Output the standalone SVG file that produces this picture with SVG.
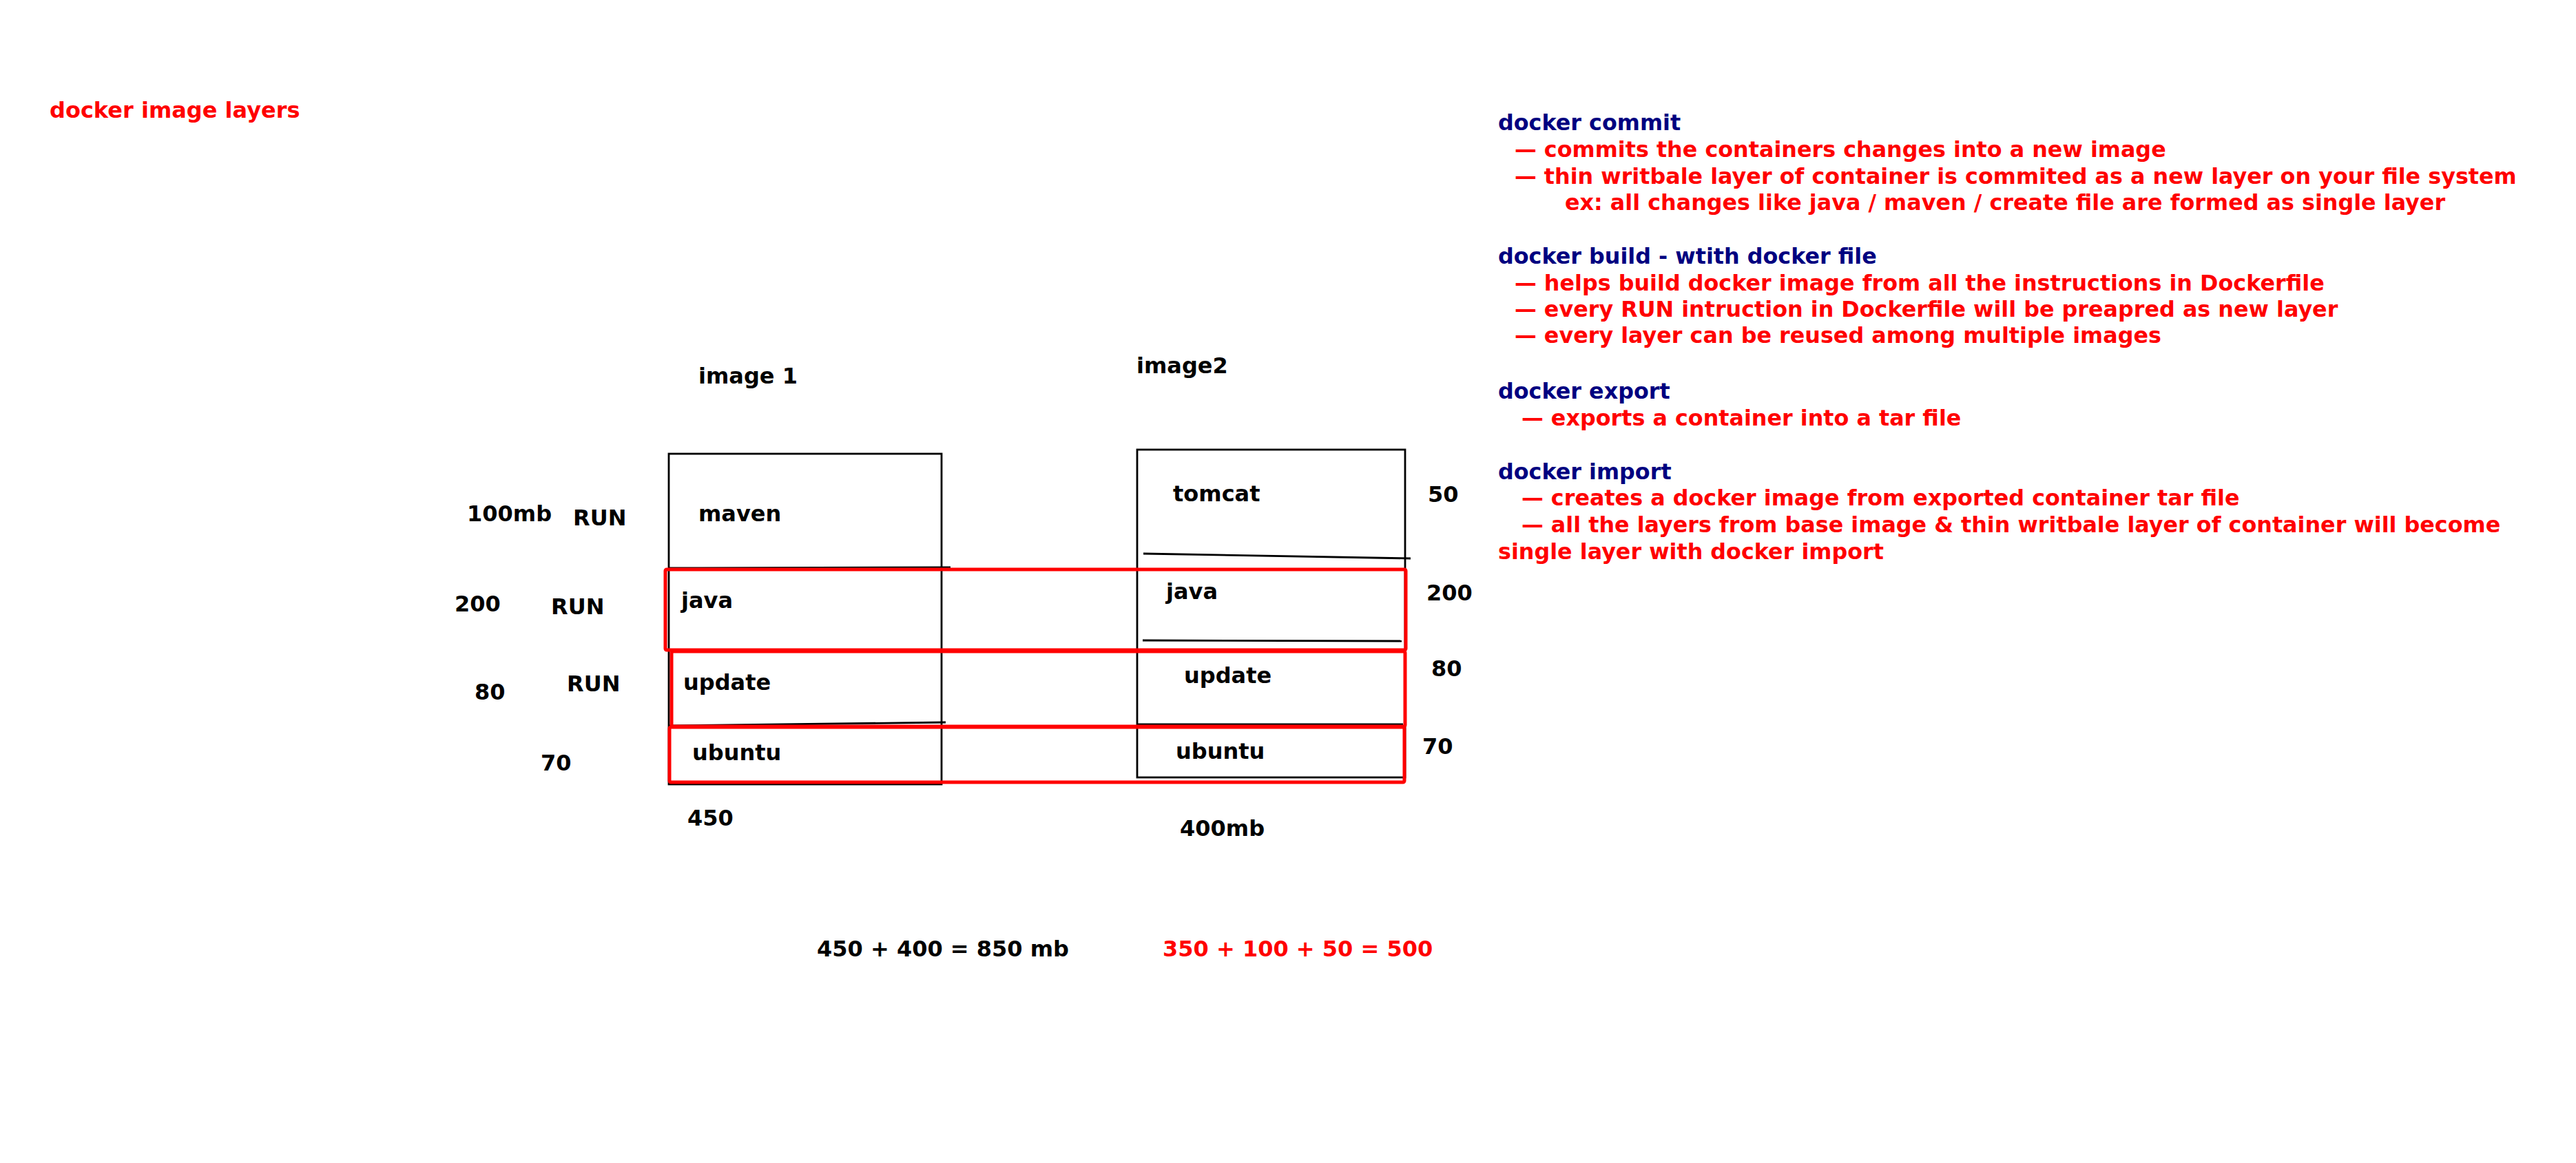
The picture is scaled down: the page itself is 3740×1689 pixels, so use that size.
<svg xmlns="http://www.w3.org/2000/svg" width="3740" height="1689" viewBox="0 0 3740 1689">
<style>
text{font-family:"DejaVu Sans","Verdana","Liberation Sans",sans-serif;font-weight:bold;font-size:32px}
#notes text{font-size:31.8px}
.k{fill:#000}
.r{fill:#FF0000}
.n{fill:#000080}
.box{fill:none;stroke:#000;stroke-width:2.8}
.ln{fill:none;stroke:#000;stroke-width:2.8}
.red{fill:none;stroke:#FF0000;stroke-width:5}
</style>
<rect width="3740" height="1689" fill="#fff"/>
<text class="r" x="72" y="171">docker image layers</text>
<g id="image1">
<rect class="box" x="971" y="659" width="396" height="480"/>
<text class="k" x="1014" y="557">image 1</text>
<text class="k" x="1014" y="757">maven</text>
<text class="k" x="989" y="883">java</text>
<text class="k" x="992" y="1002">update</text>
<text class="k" x="1005" y="1104">ubuntu</text>
<text class="k" x="998" y="1199">450</text>
</g>
<g id="image1-sizes">
<text class="k" x="678" y="757">100mb</text>
<text class="k" x="832" y="763">RUN</text>
<text class="k" x="660" y="888">200</text>
<text class="k" x="800" y="892">RUN</text>
<text class="k" x="689" y="1016">80</text>
<text class="k" x="823" y="1004">RUN</text>
<text class="k" x="785" y="1119">70</text>
</g>
<g id="image2">
<rect class="box" x="1651" y="653" width="389" height="476"/>
<text class="k" x="1650" y="542">image2</text>
<text class="k" x="1703" y="728">tomcat</text>
<text class="k" x="1693" y="870">java</text>
<text class="k" x="1719" y="992">update</text>
<text class="k" x="1707" y="1102">ubuntu</text>
<text class="k" x="1713" y="1214">400mb</text>
<text class="k" x="2073" y="729">50</text>
<text class="k" x="2071" y="872">200</text>
<text class="k" x="2078" y="982">80</text>
<text class="k" x="2065" y="1095">70</text>
</g>
<g id="connectors">
<path class="ln" d="M971 825 L1380 824"/>
<path class="ln" d="M971 1054 L1373 1049"/>
<path class="ln" d="M1660 804 L2048 811"/>
<path class="ln" d="M1659 930 L2035 931"/>
<path class="ln" d="M1652 1052 L2037 1052"/>
</g>
<g id="shared-layers">
<rect class="red" x="966" y="827" width="1075" height="117" rx="2"/>
<rect class="red" x="975" y="946" width="1065" height="109" rx="2"/>
<rect class="red" x="972" y="1056" width="1067" height="80" rx="2"/>
</g>
<g id="totals">
<text class="k" x="1186" y="1389">450 + 400 = 850 mb</text>
<text class="r" x="1688" y="1389">350 + 100 + 50 = 500</text>
</g>
<g id="notes">
<text class="n" x="2175" y="189">docker commit</text>
<text class="r" x="2199" y="228">— commits the containers changes into a new image</text>
<text class="r" x="2199" y="267">— thin writbale layer of container is commited as a new layer on your file system</text>
<text class="r" x="2272" y="305">ex: all changes like java / maven / create file are formed as single layer</text>
<text class="n" x="2175" y="383">docker build - wtith docker file</text>
<text class="r" x="2199" y="422">— helps build docker image from all the instructions in Dockerfile</text>
<text class="r" x="2199" y="460">— every RUN intruction in Dockerfile will be preapred as new layer</text>
<text class="r" x="2199" y="498">— every layer can be reused among multiple images</text>
<text class="n" x="2175" y="579">docker export</text>
<text class="r" x="2209" y="618">— exports a container into a tar file</text>
<text class="n" x="2175" y="696">docker import</text>
<text class="r" x="2209" y="734">— creates a docker image from exported container tar file</text>
<text class="r" x="2209" y="773">— all the layers from base image &amp; thin writbale layer of container will become</text>
<text class="r" x="2175" y="812">single layer with docker import</text>
</g>
</svg>
